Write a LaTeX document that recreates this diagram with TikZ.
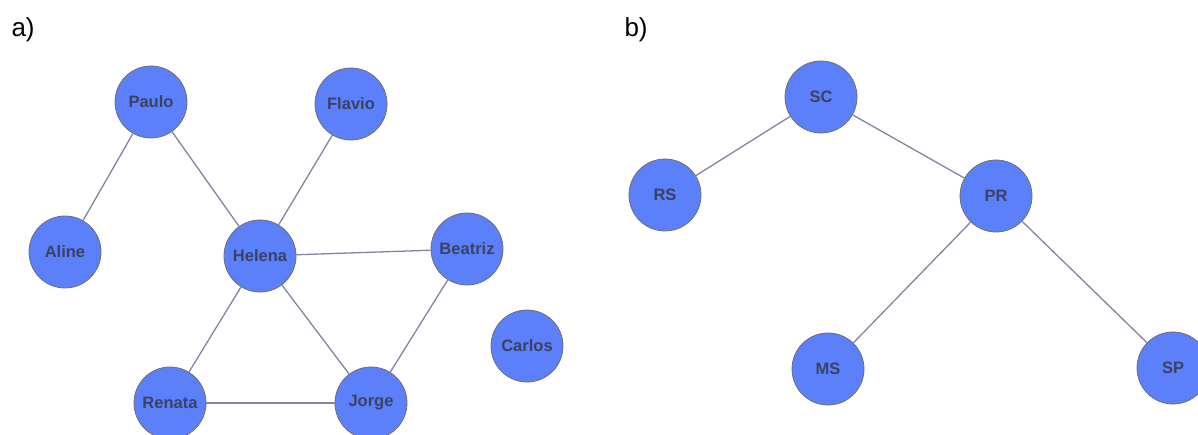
\documentclass[tikz,border=0pt]{standalone}
\usepackage{fontspec}
\setmainfont{Liberation Sans}
\definecolor{nodefill}{RGB}{92,128,250}
\definecolor{nodeedge}{RGB}{110,110,120}
\definecolor{nodetext}{RGB}{58,66,100}
\definecolor{linkcol}{RGB}{128,134,160}
\begin{document}
\begin{tikzpicture}[x=1pt,y=-1pt,
  vtx/.style={circle,fill=nodefill,draw=nodeedge,line width=0.8pt,minimum size=72pt,inner sep=0pt,
    text=nodetext,font=\fontsize{16.5}{16.5}\selectfont\bfseries},
  link/.style={draw=linkcol,line width=1.3pt},
  panel/.style={anchor=base west,font=\fontsize{26}{26}\selectfont}]
\useasboundingbox (0,0) rectangle (1198,435);
% panel labels
\node[panel] (la) at (8,37) {a)};
\node[panel] (lb) at (621,37) {b)};
% graph a)
\node[vtx] (paulo)  at (151,102) {Paulo};
\node[vtx] (flavio) at (351,104) {Flavio};
\node[vtx] (aline)  at (65,252)  {Aline};
\node[vtx] (helena) at (260,256) {Helena};
\node[vtx] (beatriz) at (467,249) {Beatriz};
\node[vtx] (carlos) at (527,346) {Carlos};
\node[vtx] (renata) at (170,403) {Renata};
\node[vtx] (jorge)  at (371,403) {Jorge};
\draw[link] (paulo) -- (aline);
\draw[link] (paulo) -- (helena);
\draw[link] (flavio) -- (helena);
\draw[link] (helena) -- (beatriz);
\draw[link] (helena) -- (renata);
\draw[link] (helena) -- (jorge);
\draw[link] (beatriz) -- (jorge);
\draw[link] (renata) -- (jorge);
% graph b)
\node[vtx] (sc) at (821,97)  {SC};
\node[vtx] (rs) at (665,195) {RS};
\node[vtx] (pr) at (996,196) {PR};
\node[vtx] (ms) at (828,369) {MS};
\node[vtx] (sp) at (1173,368) {SP};
\draw[link] (sc) -- (rs);
\draw[link] (sc) -- (pr);
\draw[link] (pr) -- (ms);
\draw[link] (pr) -- (sp);
\end{tikzpicture}
\end{document}
